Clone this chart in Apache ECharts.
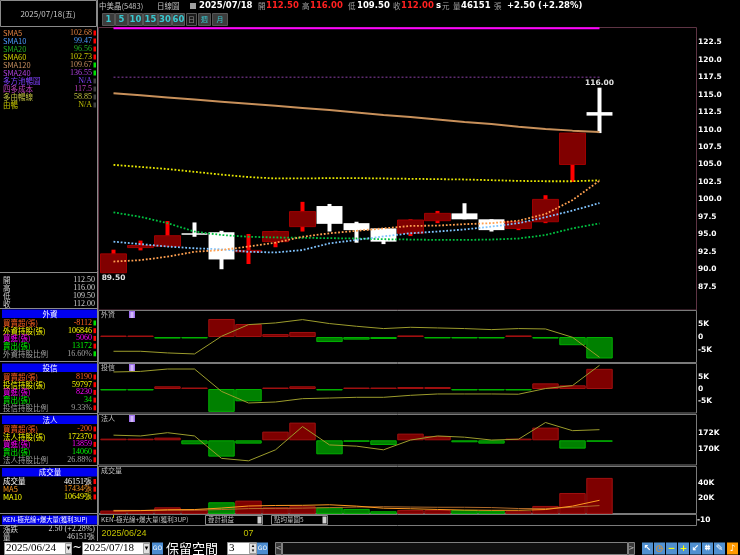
<!DOCTYPE html>
<html><head><meta charset="utf-8">
<script src="https://cdn.jsdelivr.net/npm/echarts@6/dist/echarts.min.js"></script>
<style>html,body{margin:0;padding:0;background:#000;}#c{width:740px;height:555px;}</style>
</head><body><div id="c"></div>
<script>
// ---------- data ----------
const dates = ['2025/06/24','2025/06/25','2025/06/26','2025/06/27','2025/06/30','2025/07/01','2025/07/02','2025/07/03','2025/07/04','2025/07/07','2025/07/08','2025/07/09','2025/07/10','2025/07/11','2025/07/14','2025/07/15','2025/07/16','2025/07/17','2025/07/18'];
const reservedSlots = 3;
const openP  = [89.5, 93.1, 93.3, 95.15, 95.3, 92.5, 93.95, 96.1, 99.05, 96.6, 95.85, 95.15, 96.95, 98.0, 97.15, 95.85, 96.8, 105.0, 112.5];
const closeP = [92.2, 93.4, 94.8, 95.1, 91.4, 92.7, 95.4, 98.25, 96.5, 95.6, 93.95, 97.05, 98.0, 97.15, 95.6, 96.8, 100.0, 109.5, 112.0];
const lowP   = [89.5, 92.7, 93.3, 94.65, 90.0, 90.75, 93.15, 95.4, 95.4, 93.8, 93.6, 94.75, 96.6, 97.15, 95.4, 95.6, 96.6, 102.5, 109.5];
const highP  = [92.8, 94.1, 96.9, 96.7, 95.5, 95.05, 95.5, 99.65, 99.35, 96.8, 95.9, 97.15, 98.35, 99.45, 97.15, 96.8, 100.6, 109.5, 116.0];
const sma5   = [91.1, 91.3, 91.8, 92.5, 92.75, 93.25, 93.8, 94.65, 95.15, 95.5, 95.85, 96.2, 96.25, 96.45, 96.6, 96.95, 97.9, 99.9, 102.68];
const sma10  = [93.95, 93.6, 93.25, 93.0, 92.85, 92.5, 92.4, 92.75, 93.7, 94.2, 94.7, 95.15, 95.4, 95.7, 96.1, 96.6, 97.45, 98.4, 99.47];
const sma20  = [98.15, 97.5, 96.6, 95.4, 94.9, 94.65, 94.55, 94.5, 94.45, 94.4, 94.3, 94.25, 94.2, 94.2, 94.25, 94.4, 94.9, 95.85, 96.56];
const sma60  = [104.95, 104.65, 104.35, 103.95, 103.55, 103.2, 103.0, 103.0, 103.05, 103.05, 103.0, 102.95, 102.9, 102.85, 102.75, 102.65, 102.6, 102.6, 102.73];
const sma120 = [115.2, 114.9, 114.6, 114.3, 114.0, 113.7, 113.4, 113.1, 112.8, 112.45, 112.1, 111.8, 111.45, 111.1, 110.8, 110.4, 110.1, 109.85, 109.67];
const costLine = [117.5, 117.5, 117.5, 117.5, 117.5, 117.5, 117.5, 117.5, 117.5, 117.5, 117.5, 117.5, 117.5, 117.5, 117.5, 117.5, 117.5, 117.5, 117.5];
const signalBand = [124.5, 124.5, 124.5, 124.5, 124.5, 124.5, 124.5, 124.5, 124.5, 124.5, 124.5, 124.5, 124.5, 124.5, 124.5, 124.5, 124.5, 124.5, 124.5];
const priceTicks = [87.5, 122.5];

const foreignNet  = [400, 400, -600, -500, 6800, 4900, 1100, 1900, -1900, -1000, -750, 600, -200, -200, -100, 600, -600, -3100, -8112];
const foreignHold = [109200, 109200, 108550, 108150, 115050, 119600, 120250, 121550, 120000, 118950, 118050, 118550, 118300, 118050, 117650, 118050, 117900, 114650, 106846];
const trustNet    = [-100, -100, 1100, 400, -9300, -5000, 400, 1100, -100, 500, 300, 800, 800, -100, -100, -100, 2300, 1500, 8190];
const trustHold   = [57100, 57350, 58300, 58300, 49250, 44550, 44950, 46300, 46550, 46850, 46850, 47650, 48200, 48200, 48200, 48100, 50400, 51600, 59797];
const instNet     = [250, 250, 400, -600, -2450, -500, 1300, 2650, -2100, -200, -700, 1000, 650, -300, -500, 250, 1900, -1250, -200];
const instHold    = [171700, 171600, 172000, 171600, 168850, 168550, 169900, 172750, 170500, 170350, 169900, 171100, 171600, 171450, 171100, 171200, 173250, 172250, 172370];
const volume      = [4300, 5000, 8500, 5000, 14900, 17000, 8500, 9800, 8500, 6400, 3400, 5100, 5100, 5100, 4300, 3400, 10200, 26800, 46151];
const volMA5      = [3800, 4200, 5300, 5600, 7500, 10100, 10800, 11000, 11700, 10000, 7300, 6600, 5700, 4900, 4600, 4600, 5600, 10000, 17434];
const volMA10     = [4500, 4400, 4700, 4800, 5600, 6800, 7100, 7400, 8100, 8800, 9200, 8800, 8500, 8500, 8100, 6900, 6800, 8600, 10649];

// left info panel values
const maRows = [
  ['SMA5','102.68','#e08040','#ff0000'],['SMA10','99.47','#4c9cff','#ff0000'],['SMA20','96.56','#20b020','#ff0000'],
  ['SMA60','102.73','#d0d000','#ff0000'],['SMA120','109.67','#c89060','#00e000'],['SMA240','136.55','#b040e0','#00e000'],
  ['多方池暢圖','N/A','#8040ff',null],['四多成本','117.5','#c040c0',null],['多由暢線','58.85','#c0c040',null],['由暢','N/A','#c0c000',null]];
const ohlcRows = [['開','112.50'],['高','116.00'],['低','109.50'],['收','112.00']];
const foreignRows = [['買賣超(張)','-8112','#ff6020','#00e000'],['外資持股(張)','106846','#ffff00','#ff0000'],['買進(張)','5060','#ff00ff','#ff0000'],['賣出(張)','13172','#00ff00','#ff0000'],['外資持股比例','16.60%','#a0a0a0','#00e000']];
const trustRows = [['買賣超(張)','8190','#ff6020','#ff0000'],['投信持股(張)','59797','#ffff00','#ff0000'],['買進(張)','8230','#ff00ff','#ff0000'],['賣出(張)','34','#00ff00','#ff0000'],['投信持股比例','9.33%','#a0a0a0','#ff0000']];
const instRows = [['買賣超(張)','-200','#ff6020','#ff0000'],['法人持股(張)','172370','#ffff00','#ff0000'],['買進(張)','13859','#ff00ff','#ff0000'],['賣出(張)','14060','#00ff00','#ff0000'],['法人持股比例','26.88%','#a0a0a0','#ff0000']];
const volRows = [['成交量','46151張','#ffffff','#ff0000'],['MA5','17434張','#ff9a20','#ff0000'],['MA10','10649張','#ffff00','#ff0000']];

// ---------- helpers ----------
const cats = dates.concat(Array.from({length: reservedSlots}, (_, k) => 'pad' + k));
const CJK = "'Noto Sans CJK TC','Noto Sans CJK SC',sans-serif";
const G = [];
function T(x, y, text, fill, font, align, valign, z) {
  G.push({type:'text', x:x, y:y, z:z||20, silent:true, style:{text:text, fill:fill, font:font,
    textAlign:align||'left', align:align||'left', textVerticalAlign:valign||'middle', verticalAlign:valign||'middle'}});
}
function R(x, y, w, h, fill, stroke, z, lw) {
  G.push({type:'rect', z:z||5, silent:true, shape:{x:x, y:y, width:w, height:h},
    style:{fill: fill || 'rgba(0,0,0,0)', stroke: stroke || null, lineWidth: lw || 1}});
}
function L(x1, y1, x2, y2, stroke, lw, z) {
  G.push({type:'line', z:z||5, silent:true, shape:{x1:x1, y1:y1, x2:x2, y2:y2}, style:{stroke:stroke, lineWidth:lw||1}});
}
const fSmall = "7.5px " + CJK;
const fNum = "8px 'Liberation Serif'";

// ---------- left panel ----------
R(0.5, 0.5, 96, 26, null, '#8a8a8a');
T(48, 14, '2025/07/18(五)', '#c8c8c8', "8px " + CJK, 'center');
maRows.forEach((r, k) => {
  const y = 33 + 8 * k;
  T(3, y, r[0], r[2], fSmall);
  T(92, y, r[1], r[2], fNum, 'right');
  R(93.5, y - 2.5, 2.5, 5, r[3] || '#404040', null, 21);
});
L(0, 272.5, 97, 272.5, '#8a8a8a');
ohlcRows.forEach((r, k) => { const y = 280 + 8 * k; T(3, y, r[0], '#d0d0d0', fSmall); T(95, y, r[1], '#d0d0d0', fNum, 'right'); });
L(0, 308.5, 97, 308.5, '#8a8a8a');
function block(title, y0, rows) {
  R(2, y0, 95, 8.5, '#0000f0', null, 6);
  T(50, y0 + 4.5, title, '#ffffff', fSmall, 'center');
  rows.forEach((r, k) => {
    const y = y0 + 13.5 + 7.7 * k;
    T(3, y, r[0], r[2], fSmall);
    T(92, y, r[1], r[2], fNum, 'right');
    R(93.5, y - 2.5, 2.5, 5, r[3], null, 21);
  });
}
block('外資', 309.5, foreignRows);
L(0, 361.5, 97, 361.5, '#8a8a8a');
block('投信', 363.5, trustRows);
L(0, 413.5, 97, 413.5, '#8a8a8a');
block('法人', 415.5, instRows);
L(0, 465.5, 97, 465.5, '#8a8a8a');
block('成交量', 468, volRows);
L(0, 513.5, 97, 513.5, '#8a8a8a');
R(2, 515.5, 95, 9, '#0000f0', null, 6);
T(3, 520, 'KEN-極光線+爆大量(獲利3UP)', '#ffffff', "6.3px " + CJK);
L(0, 525.5, 97, 525.5, '#8a8a8a');
T(3, 529, '漲跌', '#d0d0d0', fSmall); T(95, 529, '2.50 (+2.28%)', '#d0d0d0', fNum, 'right');
T(3, 537, '量', '#d0d0d0', fSmall); T(95, 537, '46151張', '#d0d0d0', fNum, 'right');
L(97.5, 0, 97.5, 541, '#8a8a8a');

// ---------- header ----------
const hb = "bold 8.5px 'DejaVu Sans'";
T(99, 6, '中美晶(5483)', '#c0c0c0', fSmall);
T(157, 6, '日線圖', '#c0c0c0', fSmall);
R(190, 3, 6, 6, '#a0a0a0', null);
T(199, 6, '2025/07/18', '#ffffff', hb);
T(258, 6, '開', '#a0a0a0', fSmall); T(266, 6, '112.50', '#ff2020', hb);
T(302, 6, '高', '#a0a0a0', fSmall); T(310, 6, '116.00', '#ff2020', hb);
T(348, 6, '低', '#a0a0a0', fSmall); T(357, 6, '109.50', '#ffffff', hb);
T(393, 6, '收', '#a0a0a0', fSmall); T(401, 6, '112.00', '#ff2020', hb);
T(436, 6, 's', '#ffffff', hb); T(442, 6, '元', '#a0a0a0', fSmall);
T(453, 6, '量', '#a0a0a0', fSmall); T(461, 6, '46151', '#ffffff', hb); T(494, 6, '張', '#a0a0a0', fSmall);
T(507, 6, '+2.50 (+2.28%)', '#ffffff', hb);
[['1',102,115],['5',115,128],['10',128,143],['15',143,158],['30',158,172],['60',172,185],['日',186,197],['週',198,211],['月',212,228]].forEach(b => {
  const dark = b[0] === '日';
  R(b[1] + 0.5, 13.5, b[2] - b[1] - 1, 12, dark ? '#1c1c1c' : '#3c3c3c', '#555555');
  const cjk = /[日週月]/.test(b[0]);
  T((b[1] + b[2]) / 2, 19.5, b[0], dark ? '#909090' : '#38c8d0', cjk ? "7px " + CJK : "bold 8.5px 'DejaVu Sans'", 'center');
});

// ---------- chart frames ----------
R(98.5, 27.5, 598, 282.5, null, '#5e3444', 1);
R(98.5, 310.5, 598, 52, null, '#7a7a7a', 1);
R(98.5, 363.5, 598, 49.5, null, '#7a7a7a', 1);
R(98.5, 414.5, 598, 50.5, null, '#7a7a7a', 1);
R(98.5, 466.5, 598, 47, null, '#7a7a7a', 1);
R(98.5, 514.5, 598, 11, null, '#7a7a7a', 1);
[['外資', 314.5, true], ['投信', 367.5, true], ['法人', 418.5, true], ['成交量', 470, false]].forEach(p => {
  T(101, p[1], p[0], '#c0c0c0', "7px " + CJK);
  if (p[2]) { R(129, p[1] - 3.5, 6, 7, '#a070f0', null, 21); L(130.5, p[1] - 1.5, 133.5, p[1] - 1.5, '#ffffff', 1, 22); L(130.5, p[1] + 0.5, 133.5, p[1] + 0.5, '#ffffff', 1, 22); L(130.5, p[1] + 2.5, 133.5, p[1] + 2.5, '#ffffff', 1, 22); }
});
T(101, 520, 'KEN-極光線+爆大量(獲利3UP)', '#c0c0c0', "6.5px " + CJK);
R(205.5, 515.5, 57, 9, '#000000', '#8a8a8a'); T(208, 520, '疊計損益', '#c0c0c0', "6.5px " + CJK); R(257.5, 516.5, 4, 7, '#d0d0d0', null, 21);
R(271.5, 515.5, 56, 9, '#000000', '#8a8a8a'); T(274, 520, '點均量圖5', '#c0c0c0', "6.5px " + CJK); R(322.5, 516.5, 4, 7, '#d0d0d0', null, 21);
T(697, 520, '-10', '#ffffff', "bold 7.5px 'DejaVu Sans'");

// ---------- bottom toolbar ----------
R(4.5, 542.5, 67, 12, '#ffffff', '#909090'); T(6, 548.5, '2025/06/24', '#000000', "11px 'Liberation Serif'");
R(65.5, 543.5, 6, 10, '#e0e0e0', '#a0a0a0'); T(68.5, 548.5, '▾', '#000000', "7px 'DejaVu Sans'", 'center');
T(77, 548, '~', '#ffffff', "11px 'DejaVu Sans'", 'center');
R(82.5, 542.5, 67, 12, '#ffffff', '#909090'); T(84, 548.5, '2025/07/18', '#000000', "11px 'Liberation Serif'");
R(143.5, 543.5, 6, 10, '#e0e0e0', '#a0a0a0'); T(146.5, 548.5, '▾', '#000000', "7px 'DejaVu Sans'", 'center');
R(152, 542.5, 11, 12, '#4c8cd0', null); T(157.5, 548.5, 'GO', '#ffffff', "6px 'DejaVu Sans'", 'center');
T(166, 548, '保留空間', '#ffffff', "13px " + CJK);
R(227.5, 542.5, 29, 12, '#ffffff', '#909090'); T(229, 548.5, '3', '#000000', "11px 'Liberation Serif'");
R(249.5, 543.5, 7, 10, '#e0e0e0', '#a0a0a0'); T(253, 546, '▴', '#000000', "5px 'DejaVu Sans'", 'center'); T(253, 551, '▾', '#000000', "5px 'DejaVu Sans'", 'center');
R(257, 542.5, 11, 12, '#4c8cd0', null); T(262.5, 548.5, 'GO', '#ffffff', "6px 'DejaVu Sans'", 'center');
R(275.5, 542.5, 6, 12, '#3a3a3a', '#808080'); T(278.5, 548.5, '<', '#c0c0c0', "7px 'DejaVu Sans'", 'center');
R(282.5, 542.5, 345, 12, '#101010', '#808080');
R(628.5, 542.5, 6, 12, '#3a3a3a', '#808080'); T(631.5, 548.5, '>', '#c0c0c0', "7px 'DejaVu Sans'", 'center');
[['↖',642,'#5090d0','#ffffff'],['◷',654,'#5090d0','#ff9000'],['−',666,'#5090d0','#ffff00'],['+',678,'#5090d0','#ffff00'],['↙',690,'#5090d0','#ffffff'],['⌗',702,'#5090d0','#ffffff'],['✎',714,'#5090d0','#ffffff'],['♪',727,'#ff9a00','#ffffff']].forEach(b => {
  R(b[1], 542.5, 11, 12, b[2], null); T(b[1] + 5.5, 548.5, b[0], b[3], "bold 9px 'DejaVu Sans'", 'center');
});

// ---------- chart ----------
const hiIdx = highP.indexOf(Math.max.apply(null, highP));
const loIdx = lowP.indexOf(Math.min.apply(null, lowP));
const candleData = dates.map((d, i) => [i, openP[i], closeP[i], lowP[i], highP[i]]);
function renderCandle(params, api) {
  const i = api.value(0), o = api.value(1), c = api.value(2), l = api.value(3), h = api.value(4);
  const pO = api.coord([i, o]), pC = api.coord([i, c]), pL = api.coord([i, l]), pH = api.coord([i, h]);
  const w = api.size([1, 0])[0] * 0.96;
  const x = pO[0];
  const up = c >= o;
  const top = Math.min(pO[1], pC[1]);
  const bh = Math.max(Math.abs(pO[1] - pC[1]), 1.5);
  const ch = [
    {type:'rect', shape:{x:x - 2, y:pH[1], width:4, height:Math.max(pL[1] - pH[1], 1)}, style:{fill: up ? '#ff0000' : '#ffffff'}},
    {type:'rect', shape:{x:x - w / 2, y:top, width:w, height:bh}, style:{fill: up ? '#800000' : '#ffffff', stroke: up ? '#a00000' : null, lineWidth:1}}
  ];
  const lf = "bold 7.5px 'DejaVu Sans'";
  if (i === hiIdx) ch.push({type:'text', x:x, y:pH[1] - 1, style:{text:h.toFixed(2), fill:'#e0e0e0', font:lf, textAlign:'center', align:'center', textVerticalAlign:'bottom', verticalAlign:'bottom'}});
  if (i === loIdx) ch.push({type:'text', x:x, y:pL[1] + 1, style:{text:l.toFixed(2), fill:'#e0e0e0', font:lf, textAlign:'center', align:'center', textVerticalAlign:'top', verticalAlign:'top'}});
  return {type:'group', children:ch};
}
const red = '#7e0000', redB = '#a01010', grn = '#008000', grnB = '#00b000';
function barItems(arr) {
  return arr.map(v => ({value:v, itemStyle:{color: v >= 0 ? red : grn, borderColor: v >= 0 ? redB : grnB, borderWidth:1}}));
}
const volItems = volume.map((v, i) => {
  const up = i === 0 ? closeP[i] >= openP[i] : closeP[i] >= closeP[i - 1];
  return {value:v, itemStyle:{color: up ? red : grn, borderColor: up ? redB : grnB, borderWidth:1}};
});
const axLbl = {color:'#ffffff', fontSize:7.5, fontWeight:'bold', fontFamily:'DejaVu Sans', margin:4};
const grids = [
  {left:100, width:594, top:24.84, height:296.76},
  {left:100, width:594, top:310.5, height:53},
  {left:100, width:594, top:364.4, height:49.2},
  {left:100, width:594, top:416.4, height:48.9},
  {left:100, width:594, top:467.1, height:46.8}
].map(g => Object.assign(g, {containLabel:false, outerBoundsMode:'none', show:false}));
const xAxes = grids.map((g, k) => ({type:'category', gridIndex:k, data:cats, boundaryGap:true, show:k === 4,
  axisLine:{show:false}, splitLine:{show:false}}));
const julyFirst = dates.findIndex(d => d.slice(5, 7) === '07');
const showTick = (idx) => idx === 0 || idx === julyFirst;
Object.assign(xAxes[4], {offset:13,
  axisTick:{show:true, alignWithLabel:true, length:4, interval:(idx) => showTick(idx), lineStyle:{color:'#c0c000'}},
  axisLabel:{show:true, interval:(idx) => showTick(idx), margin:2, color:'#c0c000', fontSize:9, fontFamily:'Liberation Sans',
    formatter:(v, idx) => idx === 0 ? '{a|' + v + '}' : (idx === julyFirst ? v.slice(5, 7) : ''),
    rich:{a:{color:'#c0c000', fontSize:9, fontFamily:'Liberation Sans', padding:[0, 0, 0, 21]}}}});
const hid = {axisLine:{show:false}, axisTick:{show:false}, splitLine:{show:false}};
const yAxes = [
  Object.assign({type:'value', gridIndex:0, position:'right', min:82.5, max:125, interval:2.5, axisLabel:Object.assign({}, axLbl, {formatter:v => (v >= priceTicks[0] && v <= priceTicks[1]) ? v.toFixed(1) : ''})}, hid),
  Object.assign({type:'value', gridIndex:1, position:'right', min:-10000, max:10000, interval:5000, axisLabel:Object.assign({}, axLbl, {formatter:v => Math.abs(v) === 5000 ? (v / 1000) + 'K' : (v === 0 ? '0' : '')})}, hid),
  {type:'value', gridIndex:1, show:false, min:104430, max:125100},
  Object.assign({type:'value', gridIndex:2, position:'right', min:-10000, max:10000, interval:5000, axisLabel:Object.assign({}, axLbl, {formatter:v => Math.abs(v) === 5000 ? (v / 1000) + 'K' : (v === 0 ? '0' : '')})}, hid),
  {type:'value', gridIndex:2, show:false, min:40250, max:60175},
  Object.assign({type:'value', gridIndex:3, position:'right', min:168000, max:174000, interval:2000, axisLabel:Object.assign({}, axLbl, {formatter:v => (v === 170000 || v === 172000) ? (v / 1000) + 'K' : ''})}, hid),
  {type:'value', gridIndex:3, show:false, min:-3750, max:3585},
  Object.assign({type:'value', gridIndex:4, position:'right', min:0, max:60000, interval:20000, axisLabel:Object.assign({}, axLbl, {formatter:v => (v === 20000 || v === 40000) ? (v / 1000) + 'K' : ''})}, hid)
];
function dotted(name, data, color) {
  return {type:'line', name:name, xAxisIndex:0, yAxisIndex:0, data:data, symbol:'none', z:5,
    lineStyle:{color:color, width:1.8, type:[1.8, 1.8]}};
}
function plain(data, x, y, color, w, z) {
  return {type:'line', xAxisIndex:x, yAxisIndex:y, data:data, symbol:'none', z:z || 5, lineStyle:{color:color, width:w || 1}};
}
const barCommon = {type:'bar', barCategoryGap:'2%', barMinHeight:1.5, z:2};
const option = {
  backgroundColor:'#000000',
  animation:false,
  textStyle:{fontFamily:'DejaVu Sans'},
  grid:grids, xAxis:xAxes, yAxis:yAxes,
  graphic:G,
  series:[
    {type:'custom', name:'K', xAxisIndex:0, yAxisIndex:0, data:candleData, renderItem:renderCandle, encode:{x:0, y:[1, 2, 3, 4]}, z:3},
    plain(signalBand, 0, 0, '#ff00ff', 2, 6),
    {type:'line', xAxisIndex:0, yAxisIndex:0, data:costLine, symbol:'none', z:4, lineStyle:{color:'#5c2a6e', width:1.5, type:[2, 2]}},
    plain(sma120, 0, 0, '#c8905a', 2, 5),
    dotted('SMA60', sma60, '#e8e800'),
    dotted('SMA20', sma20, '#00c040'),
    dotted('SMA10', sma10, '#80c4ff'),
    dotted('SMA5', sma5, '#ffa050'),
    Object.assign({xAxisIndex:1, yAxisIndex:1, data:barItems(foreignNet)}, barCommon),
    plain(foreignHold, 1, 2, '#9c9c2c', 1, 5),
    Object.assign({xAxisIndex:2, yAxisIndex:3, data:barItems(trustNet)}, barCommon),
    plain(trustHold, 2, 4, '#9c9c2c', 1, 5),
    Object.assign({xAxisIndex:3, yAxisIndex:6, data:barItems(instNet)}, barCommon),
    plain(instHold, 3, 5, '#9c9c2c', 1, 5),
    Object.assign({xAxisIndex:4, yAxisIndex:7, data:volItems}, barCommon),
    plain(volMA10, 4, 7, '#b06a2a', 1, 5),
    plain(volMA5, 4, 7, '#ff9a20', 1, 6)
  ]
};
const chart = echarts.init(document.getElementById('c'), null, {renderer:'canvas', width:740, height:555});
chart.setOption(option);
</script>
</body></html>
